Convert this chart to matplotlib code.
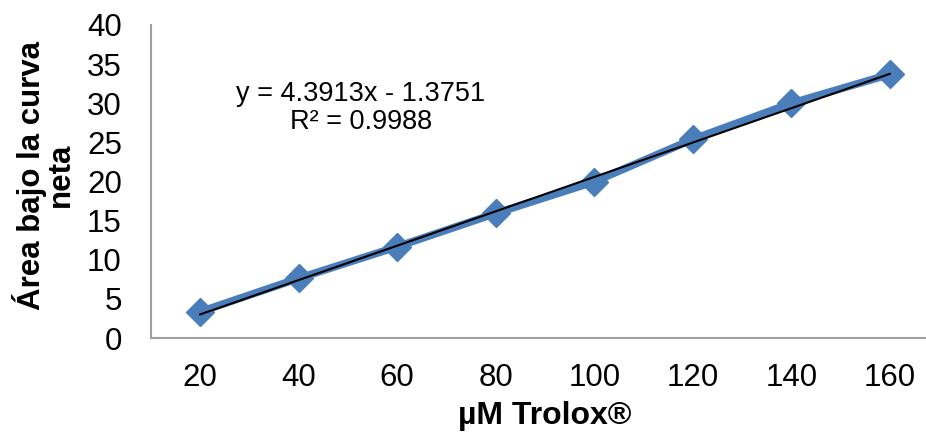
"""
plot.py - Curva de calibracion Trolox (area bajo la curva neta).
Output: out.png
"""

import matplotlib
matplotlib.use("Agg")
import matplotlib.pyplot as plt
import numpy as np

plt.rcParams["font.family"] = ["Liberation Sans", "DejaVu Sans"]

# Datos
trolox_um = ["20", "40", "60", "80", "100", "120", "140", "160"]
area_neta = [3.36, 7.63, 11.67, 15.93, 19.97, 25.4, 30.0, 33.7]

# Linea de tendencia (Excel, x = indice de categoria)
SLOPE = 4.3913
INTERCEPT = -1.3751
R2 = 0.9988

BLUE = "#4A7EBB"
GRAY = "#A0A0A0"


def main():
    fig = plt.figure(figsize=(9.26, 4.32), dpi=100)
    # el area de trazado sigue un poco mas alla del borde derecho (recortado)
    ax = fig.add_axes([151 / 926, 94 / 432, 788 / 926, 313 / 432])

    x = np.arange(1, len(trolox_um) + 1)
    ax.plot(x, area_neta, color=BLUE, linewidth=5.5, marker="D",
            markersize=14, solid_joinstyle="round", zorder=2)

    # tendencia lineal
    xt = np.array([x[0], x[-1]])
    ax.plot(xt, SLOPE * xt + INTERCEPT, color="black", linewidth=1.5, zorder=3)

    ax.text(361 / 926, 1 - 108 / 432,
            f"y = {SLOPE}x - {abs(INTERCEPT)}\nR² = {R2}",
            transform=fig.transFigure, fontsize=19.5, ha="center",
            va="center", linespacing=1.1)

    ax.set_xlim(0.5, len(trolox_um) + 0.5)
    ax.set_ylim(0, 40)
    ax.set_xticks(x)
    ax.set_xticklabels(trolox_um)
    ax.set_yticks(range(0, 41, 5))
    ax.tick_params(length=0, labelsize=22.5)
    ax.tick_params(axis="x", pad=18)
    ax.tick_params(axis="y", pad=21)

    for side in ["top", "right"]:
        ax.spines[side].set_visible(False)
    for side in ["left", "bottom"]:
        ax.spines[side].set_color(GRAY)
        ax.spines[side].set_linewidth(1.5)

    ax.set_xlabel("µM Trolox®", fontsize=23, fontweight="bold")
    ax.xaxis.set_label_coords(0.5, -0.2)
    ax.set_ylabel("Área bajo la curva\nneta", fontsize=22.5,
                  fontweight="bold", linespacing=0.95, va="center")
    ax.yaxis.set_label_coords(-0.136, 0.52)

    fig.savefig("out.png", dpi=100)
    plt.close(fig)


if __name__ == "__main__":
    main()
